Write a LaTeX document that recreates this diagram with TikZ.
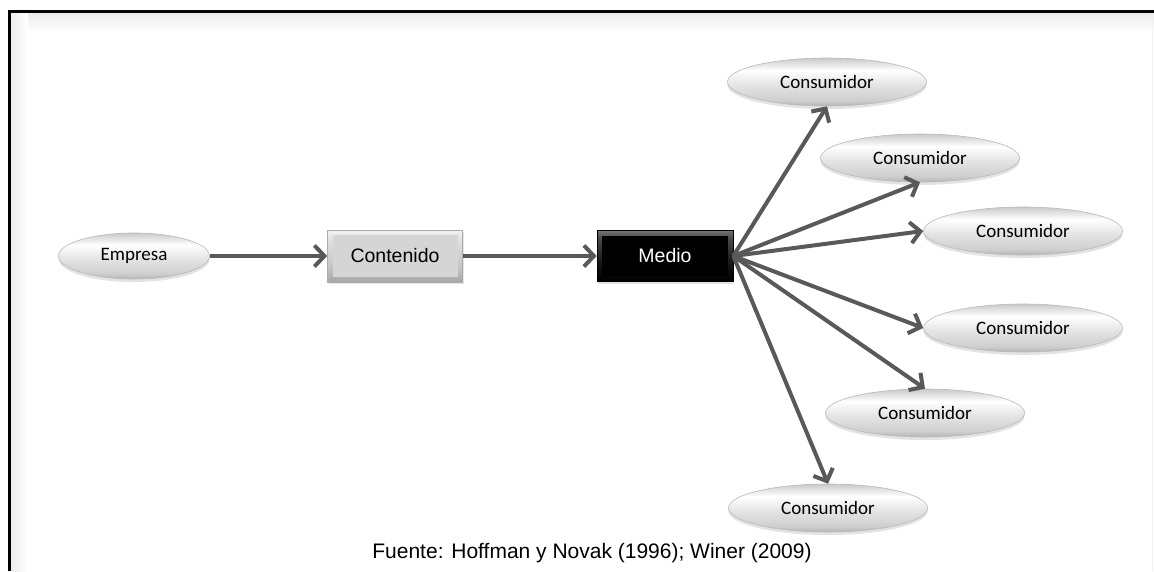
\documentclass[tikz,border=0pt]{standalone}
\usepackage{fontspec}
\setmainfont{Liberation Sans}
\newfontfamily\calibrilike{Carlito}
\usetikzlibrary{shapes.geometric,arrows.meta,shadows}

% silver gradient for the oval nodes (path spans 25bp..75bp)
\pgfdeclareverticalshading{silver}{100bp}{%
  color(0bp)=(gray!58); color(25bp)=(gray!58); color(31bp)=(gray!38);
  color(48bp)=(gray!20); color(62bp)=(white); color(69bp)=(gray!22);
  color(75bp)=(gray!42); color(100bp)=(gray!42)}
% bevel frames of the two rectangles
\pgfdeclareverticalshading{bevellight}{100bp}{%
  color(0bp)=(gray!70); color(25bp)=(gray!70); color(40bp)=(gray!45);
  color(65bp)=(gray!25); color(75bp)=(gray!10); color(100bp)=(gray!10)}
\pgfdeclareverticalshading{beveldark}{100bp}{%
  color(0bp)=(black); color(25bp)=(black); color(45bp)=(black!90);
  color(68bp)=(black!70); color(75bp)=(black!55); color(100bp)=(black!55)}

\definecolor{arrowgray}{HTML}{595959}

\tikzset{
  consumer/.style={ellipse, shading=silver, draw=gray!55, line width=0.6pt,
    minimum width=199pt, minimum height=48pt, inner sep=0pt,
    font=\calibrilike\fontsize{19}{22}\selectfont,
    drop shadow={shadow xshift=0pt, shadow yshift=-3pt, opacity=0.22, fill=gray}},
  lightbox/.style={rectangle, shading=bevellight, draw=gray!65, line width=0.6pt,
    minimum width=135pt, minimum height=52pt, inner sep=0pt,
    font=\fontsize{19.5}{22}\selectfont,
    drop shadow={shadow xshift=1pt, shadow yshift=-2pt, opacity=0.2, fill=gray},
    path picture={\fill[gray!33]
      ([shift={(5pt,-5pt)}]path picture bounding box.north west) rectangle
      ([shift={(-5pt,5pt)}]path picture bounding box.south east);}},
  darkbox/.style={rectangle, shading=beveldark, draw=black, line width=0.6pt,
    minimum width=136pt, minimum height=51pt, inner sep=0pt, text=white,
    font=\fontsize{19.5}{22}\selectfont,
    drop shadow={shadow xshift=1pt, shadow yshift=-2pt, opacity=0.2, fill=gray},
    path picture={\fill[black]
      ([shift={(5pt,-5pt)}]path picture bounding box.north west) rectangle
      ([shift={(-5pt,5pt)}]path picture bounding box.south east);}},
  flow/.style={draw=arrowgray, line width=4pt,
    -{Straight Barb[length=10pt,width=21pt]}},
}

\begin{document}
\begin{tikzpicture}[x=1pt,y=-1pt]
  % page area
  \useasboundingbox (0,0) rectangle (1154,571);
  \fill[white] (0,0) rectangle (1154,571);

  % soft inner shadow of the frame
  \shade[top color=gray!16, bottom color=white] (11,13) rectangle (1154,32);
  \shade[left color=gray!14, right color=white] (11,13) rectangle (28,571);
  \draw[gray!12, line width=1pt] (1152,14) -- (1152,571);
  % frame
  \draw[black, line width=3pt] (9.5,571) -- (9.5,11.5) -- (1154,11.5);

  % nodes
  \node[consumer, minimum width=151pt, minimum height=46pt] (empresa) at (134,256) {Empresa};
  \node[lightbox] (contenido) at (395,256) {Contenido};
  \node[darkbox] (medio) at (665,256) {Medio};

  \node[consumer] (c1) at (827,82)  {Consumidor};
  \node[consumer] (c2) at (920,158) {Consumidor};
  \node[consumer] (c3) at (1023,231) {Consumidor};
  \node[consumer] (c4) at (1023,328) {Consumidor};
  \node[consumer] (c5) at (925,413) {Consumidor};
  \node[consumer] (c6) at (828,508) {Consumidor};

  % connectors
  \draw[flow] (empresa) -- (contenido);
  \draw[flow] (contenido) -- (medio);
  \draw[flow] (medio.east) -- (c1.south);
  \draw[flow] (medio.east) -- (c2.south);
  \draw[flow] (medio.east) -- (c3.west);
  \draw[flow] (medio.east) -- (c4.west);
  \draw[flow] (medio.east) -- (c5.north);
  \draw[flow] (medio.east) -- (c6.north);

  % source line
  \node[font=\fontsize{21}{25}\selectfont] (fuente) at (592,553)
    {Fuente: Hoffman y Novak (1996); Winer (2009)};
\end{tikzpicture}
\end{document}
